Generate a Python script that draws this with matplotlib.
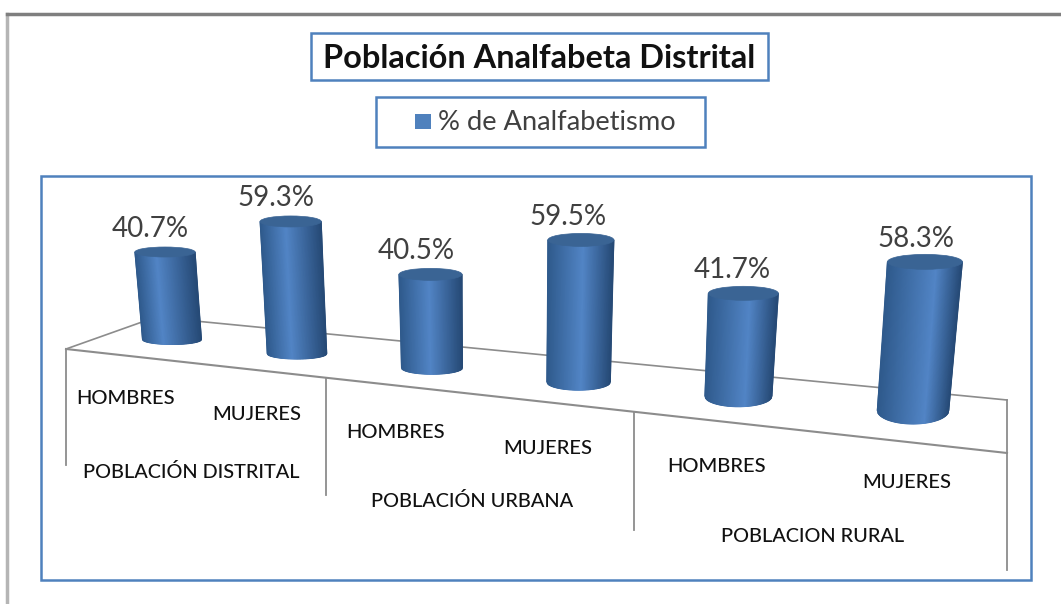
import matplotlib
matplotlib.use("Agg")
import matplotlib.pyplot as plt
import numpy as np
from matplotlib.colors import LinearSegmentedColormap
from matplotlib.patches import Ellipse, Rectangle

plt.rcParams['font.family'] = ['Lato', 'DejaVu Sans']

# data
title = "Población Analfabeta Distrital"
series_name = "% de Analfabetismo"
sexes = ["HOMBRES", "MUJERES", "HOMBRES", "MUJERES", "HOMBRES", "MUJERES"]
groups = ["POBLACIÓN DISTRITAL", "POBLACIÓN URBANA", "POBLACION RURAL"]
illiteracy = [40.7, 59.3, 40.5, 59.5, 41.7, 58.3]

BLUE = "#4f81bd"
GREY = "#8c8c8c"
shade = LinearSegmentedColormap.from_list(
    "cyl", ["#2f5a8c", "#5285c6", "#264a76"])


def floor_x(i):
    # the category axis runs away from the viewer, so spacing grows
    return 172 + 120.53 * i + 4.2 * i ** 2 + 0.267 * i ** 3


def floor_y(i):
    return 339.5 + 14.2 * i


def label_x(i):
    return 126 + 128.5 * i + 1.72 * i ** 2 + 0.76 * i ** 3


def value_scale(i):
    return 2.15 + 0.08 * i


def draw_cylinder(ax, i, value):
    base_x, base_y = floor_x(i), floor_y(i)
    height = value * value_scale(i)
    lean = (-0.08 + 0.032 * i) * height
    bottom_w = 59 + 0.5 * i ** 2
    top_w = bottom_w * 1.02 + 0.4 * i
    bottom_ry = 5 + 0.34 * i ** 2
    top_ry = 5 + 0.5 * i
    top_x, top_y = base_x + lean, base_y - height
    light = 0.36 + 0.06 * i

    u = np.linspace(-1, 1, 81)
    t = (u + 1) / 2
    level = np.where(t < light, 0.5 * t / light,
                     0.5 + 0.5 * (t - light) / (1 - light))
    xs = np.vstack([top_x + u * top_w / 2, base_x + u * bottom_w / 2])
    ys = np.vstack([np.full_like(u, top_y),
                    base_y + bottom_ry * np.sqrt(1 - u ** 2)])
    ax.pcolormesh(xs, ys, np.vstack([level, level]), cmap=shade, vmin=0,
                  vmax=1, shading='gouraud', zorder=3)
    ax.add_patch(Ellipse((top_x, top_y), top_w, 2 * top_ry,
                         facecolor="#3a6494", edgecolor="#3a6494",
                         linewidth=0.5, zorder=4))
    ax.text(top_x - 15 + 0.25 * i ** 2, top_y - 23, f"{value}%", ha='center',
            va='center', fontsize=20, color="#404040", zorder=5)


def draw_floor(ax):
    ax.plot([66, 142], [349, 322], color=GREY, lw=1.2, zorder=2)
    ax.plot([195, 1007], [321, 400], color=GREY, lw=1.2, zorder=2)
    ax.plot([66, 1007], [349, 453], color=GREY, lw=1.5, zorder=2)
    ax.plot([66, 66], [349, 465], color=GREY, lw=1.3, zorder=2)
    ax.plot([326, 326], [378, 495], color=GREY, lw=1.3, zorder=2)
    ax.plot([634, 634], [412, 530], color=GREY, lw=1.3, zorder=2)
    ax.plot([1007, 1007], [400, 570], color=GREY, lw=1.3, zorder=2)


def draw_boxes(ax):
    ax.plot([7, 7], [604, 14], color="#b5b5b5", lw=2.5)
    ax.plot([7, 1061], [14, 14], color="#7f7f7f", lw=2.5)
    for x, y, w, h in [(311, 33, 457, 47), (376, 97, 329, 50),
                       (41, 176, 990, 404)]:
        ax.add_patch(Rectangle((x, y), w, h, facecolor='white',
                               edgecolor=BLUE, linewidth=1.8, zorder=1))


def main():
    fig = plt.figure(figsize=(10.61, 6.04), dpi=100)
    ax = fig.add_axes([0, 0, 1, 1])
    ax.set_xlim(0, 1061)
    ax.set_ylim(604, 0)
    ax.axis('off')

    draw_boxes(ax)
    draw_floor(ax)

    ax.text(539, 59, title, ha='center', va='center', fontsize=23.4,
            fontweight='bold', color="#111111", zorder=5)
    ax.add_patch(Rectangle((415, 114), 16, 15, facecolor=BLUE, zorder=5))
    ax.text(438, 122, series_name, ha='left', va='center', fontsize=19.6,
            color="#404040", zorder=5)

    for i, value in enumerate(illiteracy):
        draw_cylinder(ax, i, value)
        ax.text(label_x(i), 398 + 17 * i, sexes[i], ha='center', va='center',
                fontsize=14.5, fontweight='medium', color="#111111", zorder=5)

    for label, x, y in zip(groups, [191, 472, 813], [472, 501, 537]):
        ax.text(x, y, label, ha='center', va='center', fontsize=14.3,
                fontweight='medium', color="#111111", zorder=5)

    fig.savefig("out.png", dpi=100)


if __name__ == "__main__":
    main()
